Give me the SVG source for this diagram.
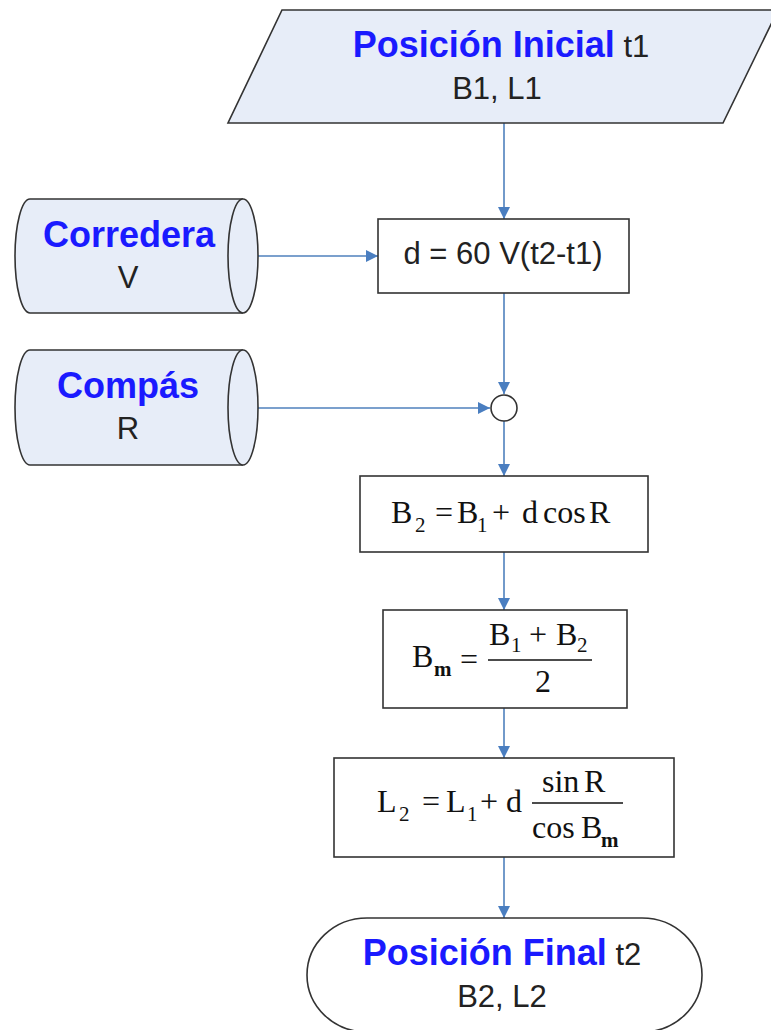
<svg xmlns="http://www.w3.org/2000/svg" width="771" height="1030" viewBox="0 0 771 1030">
<style>
.shape{fill:#e7edf8;stroke:#333;stroke-width:1.6}
.box{fill:#fff;stroke:#333;stroke-width:1.6}
.conn{stroke:#4f81bd;stroke-width:1.6;fill:none}
.blue{font-family:"Liberation Sans",Arial,sans-serif;font-weight:bold;font-size:36px;fill:#1a1aff}
.blk{font-family:"Liberation Sans",Arial,sans-serif;font-size:31px;fill:#222}
.m{font-family:"Liberation Serif","Times New Roman",serif;font-size:32px;fill:#111}
.s{font-family:"Liberation Serif","Times New Roman",serif;font-size:21px;fill:#111}
.fl{stroke:#111;stroke-width:1.4}
</style>
<defs>
<marker id="arr" markerUnits="userSpaceOnUse" markerWidth="13" markerHeight="12" refX="12" refY="6" orient="auto">
<path d="M0,0 L12,6 L0,12 Z" fill="#4a7ec0"/>
</marker>
</defs>

<g id="connectors">
<line class="conn" x1="504" y1="123" x2="504" y2="219" marker-end="url(#arr)"/>
<line class="conn" x1="243" y1="256" x2="378" y2="256" marker-end="url(#arr)"/>
<line class="conn" x1="504" y1="293" x2="504" y2="394" marker-end="url(#arr)"/>
<line class="conn" x1="243" y1="408" x2="490" y2="408" marker-end="url(#arr)"/>
<line class="conn" x1="504" y1="421" x2="504" y2="476" marker-end="url(#arr)"/>
<line class="conn" x1="504" y1="552" x2="504" y2="610" marker-end="url(#arr)"/>
<line class="conn" x1="504" y1="708" x2="504" y2="758" marker-end="url(#arr)"/>
<line class="conn" x1="504" y1="857" x2="504" y2="918" marker-end="url(#arr)"/>
</g>

<g id="inicio">
<polygon class="shape" points="282,10 778,10 723,123 228,123"/>
<text class="blue" x="501" y="57" text-anchor="middle">Posición Inicial<tspan class="blk" font-weight="normal"> t1</tspan></text>
<text class="blk" x="497" y="99" text-anchor="middle">B1, L1</text>
</g>

<g id="corredera">
<path class="shape" d="M30,199 H243 A15,57 0 0 1 243,313 H30 A15,57 0 0 1 30,199 Z"/>
<path class="shape" d="M243,199 A15,57 0 0 0 243,313"/>
<text class="blue" x="129" y="247" text-anchor="middle">Corredera</text>
<text class="blk" x="128" y="288" text-anchor="middle">V</text>
</g>

<g id="compas">
<path class="shape" d="M30,350 H243 A15,57.5 0 0 1 243,465 H30 A15,57.5 0 0 1 30,350 Z"/>
<path class="shape" d="M243,350 A15,57.5 0 0 0 243,465"/>
<text class="blue" x="128" y="398" text-anchor="middle">Compás</text>
<text class="blk" x="128" y="439" text-anchor="middle">R</text>
</g>

<g id="distancia">
<rect class="box" x="378" y="219" width="251" height="74"/>
<text class="blk" x="503" y="264" text-anchor="middle">d = 60 V(t2-t1)</text>
</g>

<g id="union">
<circle class="box" cx="504" cy="408" r="13"/>
</g>

<g id="latitud">
<rect class="box" x="360" y="476" width="288" height="76"/>
<text class="m" x="391" y="523">B</text>
<text class="s" x="415" y="532">2</text>
<text class="m" x="444" y="523" text-anchor="middle">=</text>
<text class="m" x="457" y="523">B</text>
<text class="s" x="477" y="532">1</text>
<text class="m" x="501" y="523" text-anchor="middle">+</text>
<text class="m" x="522" y="523">d</text>
<text class="m" x="543" y="523">cos</text>
<text class="m" x="589" y="523">R</text>
</g>

<g id="latmedia">
<rect class="box" x="383" y="610" width="244" height="98"/>
<text class="m" x="412" y="667">B</text>
<text class="s" x="434" y="676" font-weight="bold">m</text>
<text class="m" x="469" y="670" text-anchor="middle">=</text>
<line class="fl" x1="488" y1="660" x2="592" y2="660"/>
<text class="m" x="489" y="645">B</text>
<text class="s" x="511" y="652">1</text>
<text class="m" x="538" y="645" text-anchor="middle">+</text>
<text class="m" x="556" y="645">B</text>
<text class="s" x="577" y="652">2</text>
<text class="m" x="543" y="692" text-anchor="middle">2</text>
</g>

<g id="longitud">
<rect class="box" x="334" y="758" width="340" height="99"/>
<text class="m" x="377" y="812">L</text>
<text class="s" x="399" y="821">2</text>
<text class="m" x="431" y="812" text-anchor="middle">=</text>
<text class="m" x="446" y="812">L</text>
<text class="s" x="467" y="821">1</text>
<text class="m" x="489" y="812" text-anchor="middle">+</text>
<text class="m" x="506" y="812">d</text>
<line class="fl" x1="532" y1="803" x2="623" y2="803"/>
<text class="m" x="542" y="792">sin</text>
<text class="m" x="584" y="792">R</text>
<text class="m" x="532" y="838">cos</text>
<text class="m" x="581" y="838">B</text>
<text class="s" x="601" y="847" font-weight="bold">m</text>
</g>

<g id="final">
<rect class="box" x="307" y="918" width="395" height="114" rx="60" ry="57"/>
<text class="blue" x="502" y="965" text-anchor="middle">Posición Final<tspan class="blk" font-weight="normal"> t2</tspan></text>
<text class="blk" x="502" y="1007" text-anchor="middle">B2, L2</text>
</g>
</svg>
